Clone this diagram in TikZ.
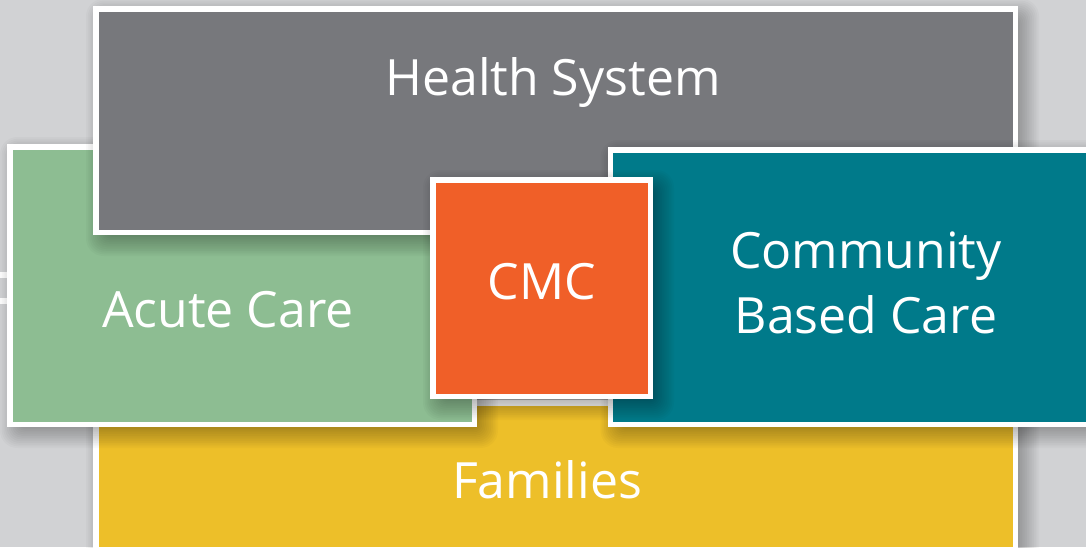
\documentclass[tikz,border=0pt]{standalone}
\usepackage{fontspec}
\setmainfont{Open Sans}
\definecolor{bg}{RGB}{209,210,212}
\definecolor{hsgray}{RGB}{119,120,124}
\definecolor{acgreen}{RGB}{141,189,146}
\definecolor{cbteal}{RGB}{0,122,138}
\definecolor{cmcorange}{RGB}{240,95,40}
\definecolor{famyellow}{RGB}{237,191,41}
% soft shadow under the outer rectangle (x1,y1)-(x2,y2), y downward
\newcommand\softshadow[4]{%
  \foreach \e [evaluate=\e as \r using {(\e+15)*0.6}] in {-14,-12.25,...,14}{
    \fill[black, opacity=0.022, rounded corners=\r pt]
      ({#1+7-\e},{#2+7-\e}) rectangle ({#3+7+\e},{#4+7+\e});
  }}
\begin{document}
\begin{tikzpicture}[x=1pt,y=-1pt,
  box/.style={draw=white, line width=5.5pt, inner sep=0pt, outer sep=0pt, anchor=north west},
  lbl/.style={text=white, font=\fontsize{50}{62}\selectfont, anchor=base, inner sep=0pt}]
\fill[bg] (0,0) rectangle (1086,547);
\useasboundingbox (0,0) rectangle (1086,547);
\fill[white] (0,272) rectangle (7,278);
\fill[white] (0,298) rectangle (7,304);
\softshadow{93}{400}{1018}{552}
\node[box, fill=famyellow, minimum width=919.5pt, minimum height=146.5pt] (fambox) at (95.75,402.75) {};
\softshadow{7}{144}{477}{427}
\node[box, fill=acgreen, minimum width=464.5pt, minimum height=277.5pt] (acbox) at (9.75,146.75) {};
\softshadow{93}{6}{1018}{235}
\node[box, fill=hsgray, minimum width=919.5pt, minimum height=223.5pt] (hsbox) at (95.75,8.75) {};
\softshadow{607.5}{147}{1100}{427}
\node[box, fill=cbteal, minimum width=486.5pt, minimum height=274.5pt] (cbbox) at (610.25,149.75) {};
\softshadow{430}{177}{653}{399}
\node[box, fill=cmcorange, minimum width=217.5pt, minimum height=216.5pt] (cmcbox) at (432.75,179.75) {};
\node[lbl] (hs) at (553,95) {Health System};
\node[lbl] (ac) at (228,327) {Acute Care};
\node[lbl] (cmc) at (542,299) {CMC};
\node[lbl] (cb1) at (866,268) {Community};
\node[lbl] (cb2) at (866,333) {Based Care};
\node[lbl] (fam) at (547,498) {Families};
\end{tikzpicture}
\end{document}
